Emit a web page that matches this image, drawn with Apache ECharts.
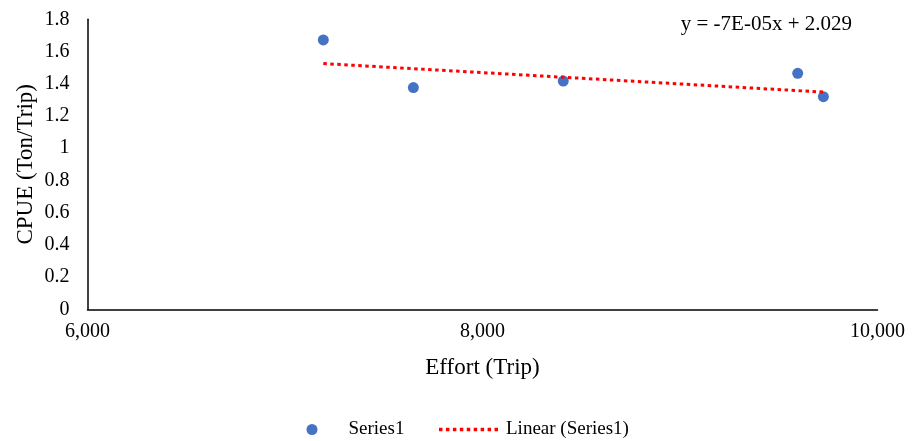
<!DOCTYPE html>
<html>
<head>
<meta charset="utf-8">
<script src="https://cdn.jsdelivr.net/npm/echarts@6/dist/echarts.min.js"></script>
<style>
html,body{margin:0;padding:0;background:#fff;}
#chart{width:913px;height:441px;}
</style>
</head>
<body>
<div id="chart"></div>
<script>
// Data
const effort = [7194, 7650, 8409, 9596, 9726];      // Effort (Trip)
const cpue   = [1.672, 1.376, 1.417, 1.465, 1.320];  // CPUE (Ton/Trip)
const trendSlope = -7e-5;
const trendIntercept = 2.029;
const equationText = 'y = -7E-05x + 2.029';
const xTicks = [6000, 8000, 10000];
const yTicks = [0, 0.2, 0.4, 0.6, 0.8, 1, 1.2, 1.4, 1.6, 1.8];

const points = effort.map((x, i) => [x, cpue[i]]);
const xMinData = Math.min(...effort), xMaxData = Math.max(...effort);
const trend = [xMinData, xMaxData].map(x => [x, trendSlope * x + trendIntercept]);

// dotted legend icon (row of small squares)
let dotPath = 'path://';
for (let i = 0; i < 9; i++) { const x = i * 7; dotPath += `M${x},0h3.5v3.5h-3.5z`; }

const FONT = 'Liberation Serif';
const chart = echarts.init(document.getElementById('chart'));
chart.setOption({
  animation: false,
  backgroundColor: '#fff',
  textStyle: { fontFamily: FONT, color: '#000' },
  title: {
    text: equationText,
    right: 61, top: 14, padding: 0,
    textStyle: { fontFamily: FONT, fontSize: 21, fontWeight: 'normal', color: '#000' }
  },
  grid: { left: 87.5, right: 35.5, top: 19.3, bottom: 131.7, containLabel: false },
  xAxis: {
    type: 'value',
    min: xTicks[0], max: xTicks[xTicks.length - 1], interval: xTicks[1] - xTicks[0],
    name: 'Effort (Trip)', nameLocation: 'middle', nameGap: 59, nameMoveOverlap: false,
    nameTextStyle: { fontFamily: FONT, fontSize: 23, color: '#000', verticalAlign: 'middle' },
    axisLine: { show: true, lineStyle: { color: '#000', width: 1.5 } },
    axisTick: { show: false },
    splitLine: { show: false },
    axisLabel: { fontFamily: FONT, fontSize: 20, color: '#000', margin: 12,
      formatter: v => v.toLocaleString('en-US') }
  },
  yAxis: {
    type: 'value',
    min: yTicks[0], max: yTicks[yTicks.length - 1], interval: yTicks[1] - yTicks[0],
    name: 'CPUE (Ton/Trip)', nameLocation: 'middle', nameGap: 61.5, nameMoveOverlap: false,
    nameTextStyle: { fontFamily: FONT, fontSize: 23, color: '#000', verticalAlign: 'middle' },
    axisLine: { show: true, lineStyle: { color: '#000', width: 1.5 } },
    axisTick: { show: false },
    splitLine: { show: false },
    axisLabel: { fontFamily: FONT, fontSize: 20, color: '#000', margin: 18 }
  },
  legend: [
    {
      left: 306.5, top: 420, padding: 0,
      itemWidth: 11, itemHeight: 11,
      textStyle: { fontFamily: FONT, fontSize: 19, color: '#000', padding: [0, 0, 0, 26] },
      data: [{ name: 'Series1', icon: 'circle', itemStyle: { color: '#4472C4', opacity: 1 } }]
    },
    {
      left: 439, top: 420, padding: 0,
      itemWidth: 59, itemHeight: 3.5,
      textStyle: { fontFamily: FONT, fontSize: 19, color: '#000', padding: [0, 0, 0, 3] },
      data: [{ name: 'Linear (Series1)', icon: dotPath, itemStyle: { color: '#FF0000', opacity: 1 } }]
    }
  ],
  series: [
    {
      name: 'Series1', type: 'scatter', data: points,
      symbol: 'circle', symbolSize: 11,
      itemStyle: { color: '#4472C4', opacity: 1 }
    },
    {
      name: 'Linear (Series1)', type: 'line', data: trend,
      symbol: 'none', showSymbol: false,
      lineStyle: { color: '#FF0000', width: 3, type: [3.5, 3.5] },
      itemStyle: { color: '#FF0000' }
    }
  ]
});
</script>
</body>
</html>
